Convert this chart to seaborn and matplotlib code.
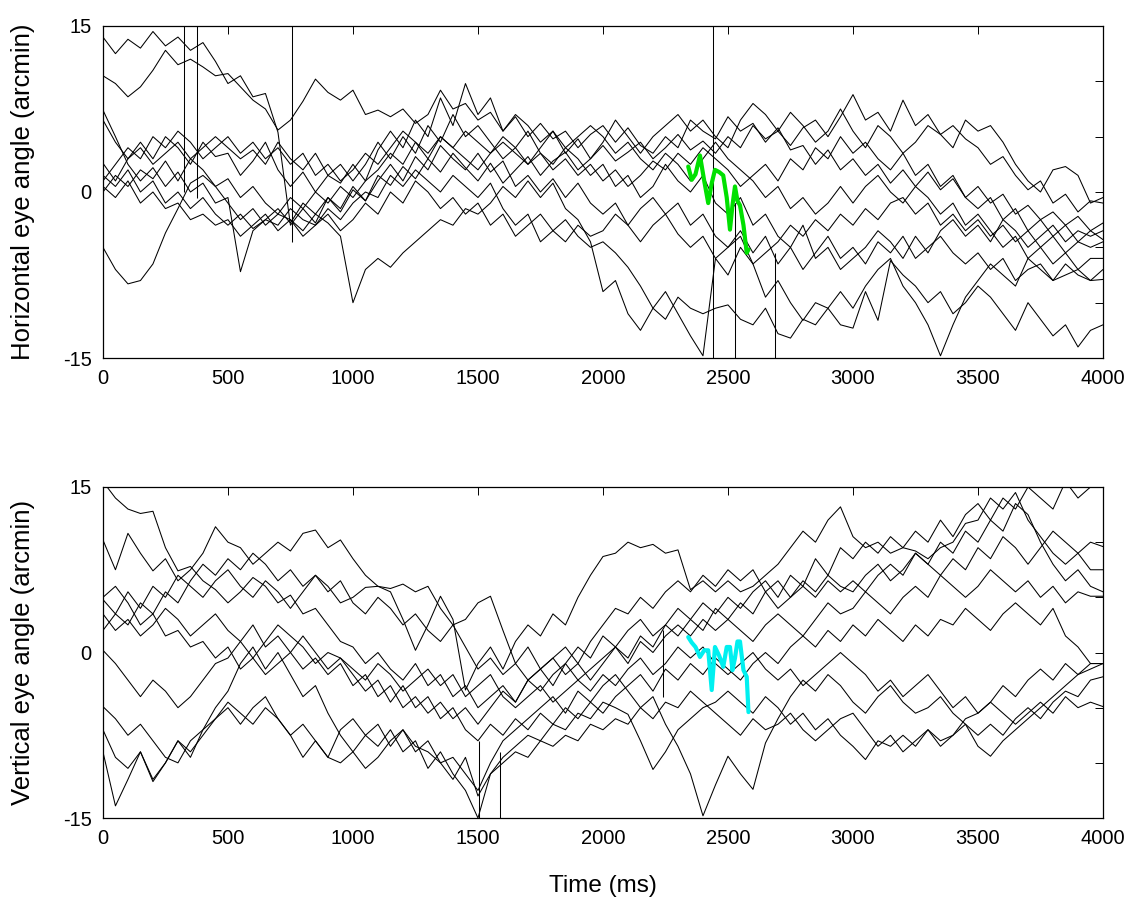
import numpy as np
import pandas as pd
import seaborn as sns
from matplotlib import pyplot as plt

# sample times (ms), one value every 50 ms
t = np.arange(0, 4001, 50)

# horizontal eye angle traces (arcmin)
h1 = [14.0, 12.5, 13.8, 13.0, 14.5, 13.2, 14.0, 12.8, 13.5, 11.8,
      9.8, 10.5, 8.6, 8.9, 5.4, -3.0, -1.5, -2.8, -0.5, -1.8,
      0.2, -0.8, 1.5, 0.6, 2.3, 1.2, 3.0, 1.8, 3.5, 2.2,
      1.0, 2.6, 0.8, 2.0, 3.2, 1.5, 2.8, 3.6, 2.0, 3.0,
      4.2, 2.8, 3.6, 4.5, 3.0, 4.0, 5.2, 3.8, 4.6, 3.5,
      5.0, 4.0, 6.0, 4.8, 5.5, 4.2, 5.8, 6.5, 5.0, 6.8,
      8.8, 6.5, 7.2, 5.5, 8.3, 6.0, 7.0, 5.2, 6.0, 4.8,
      4.0, 2.5, 3.2, 1.5, 0.2, 1.0, -1.0, -0.2, -1.8, -0.8,
      -1.0]
h2 = [10.5, 9.8, 8.6, 9.5, 11.0, 12.8, 11.5, 12.0, 11.3, 10.5,
      10.7, 9.5, 8.3, 7.5, 5.6, 6.5, 8.2, 10.2, 9.0, 8.3,
      9.2, 7.0, 7.4, 6.8, 7.5, 6.2, 7.0, 9.2, 7.5, 8.0,
      6.5, 7.2, 5.5, 6.8, 5.0, 6.2, 4.8, 5.5, 4.0, 5.2,
      6.0, 4.5, 5.8, 4.2, 3.5, 5.0, 4.0, 6.5, 5.5, 4.8,
      6.8, 5.5, 6.2, 4.5, 5.8, 3.8, 4.2, 2.5, 3.8, 2.0,
      3.0, 1.5, 2.5, 0.8, 2.0, 0.5, 1.8, 0.2, 1.2, -0.5,
      0.5, -1.0, -0.2, -2.0, -1.2, -2.5, -1.8, -3.0, -2.2, -3.5,
      -2.8]
h3 = [7.4, 5.0, 2.5, 1.0, 2.2, 0.5, 1.8, 0.0, 0.8, -1.0,
      -0.5, -7.2, -3.5, -2.5, -1.5, -2.8, -1.0, -2.0, -0.5, -1.5,
      0.5, -0.8, 1.0, 2.5, 1.0, 3.2, 2.0, 4.2, 3.0, 2.0,
      3.5, 1.8, 2.8, 0.5, 1.5, 0.0, 1.2, -0.5, 0.8, -1.0,
      -2.0, -1.0, -3.0, -4.5, -3.0, -2.0, -3.8, -5.0, -4.0, -6.0,
      -5.0, -4.0, -6.5, -5.5, -4.5, -3.0, -4.0, -2.5, -3.5, -2.0,
      -3.0, -1.5, -2.5, -1.0, -0.5, -2.0, -1.0, -3.0, -2.0, -3.5,
      -2.5, -4.0, -3.0, -4.5, -3.5, -5.0, -4.0, -5.5, -4.5, -5.0,
      -4.5]
h4 = [-5.0, -7.0, -8.3, -8.0, -6.5, -3.7, -1.5, 0.8, 1.5, 0.5,
      -1.0, -2.5, -1.5, -3.0, -2.0, -2.5, -3.5, -2.0, -2.8, -4.0,
      -10.0, -7.0, -6.0, -6.8, -5.5, -4.5, -3.5, -2.5, -3.0, -1.5,
      -2.0, -1.0, 0.5, -0.5, 1.0, -0.5, 0.8, -1.5, -2.5, -4.5,
      -9.0, -8.0, -11.0, -12.5, -10.5, -11.5, -9.5, -10.5, -11.0, -10.5,
      -10.2, -11.5, -12.0, -10.5, -12.8, -13.2, -11.5, -12.0, -10.5, -12.0,
      -12.3, -9.0, -11.6, -6.2, -7.5, -8.5, -10.0, -9.0, -11.0, -10.0,
      -8.5, -9.5, -11.0, -12.5, -10.0, -11.5, -13.0, -12.0, -14.0, -12.5,
      -12.0]
h5 = [2.6, 1.0, 3.0, 4.5, 3.0, 5.0, 4.0, 2.5, 4.5, 3.2,
      3.5, 1.5, 2.8, 4.5, 2.0, 0.5, 1.8, 0.0, 1.5, 0.8,
      2.5, 1.0, 3.8, 5.5, 4.0, 6.5, 5.0, 8.5, 6.0, 9.8,
      7.0, 8.5, 5.5, 7.0, 6.0, 4.5, 5.5, 3.5, 4.8, 3.0,
      4.5, 6.5, 5.0, 3.5, 5.0, 6.0, 7.0, 5.5, 6.5, 5.0,
      4.0, 6.5, 8.0, 7.0, 5.5, 7.2, 6.0, 4.5, 5.5, 7.5,
      5.5, 4.0, 6.0, 5.0, 3.5, 4.5, 6.0, 5.2, 4.0, 6.5,
      5.5, 6.0, 4.5, 2.5, 1.0, 0.0, 2.0, 2.3, 1.5, -1.0,
      -0.5]
h6 = [1.5, 0.5, 2.0, 0.0, 1.0, -1.0, 0.0, -1.5, -0.5, -2.0,
      -3.0, -2.0, -3.3, -2.5, -3.0, -1.5, -2.5, -3.0, -1.5, -2.5,
      -1.0, 0.0, -0.5, 1.5, 0.5, 2.0, 1.0, 0.0, 1.5, 0.5,
      -0.5, 0.8, -1.5, -3.0, -2.0, -4.5, -3.5, -2.5, -4.0, -5.0,
      -4.5, -5.5, -6.8, -8.5, -10.5, -9.0, -11.0, -13.0, -14.8, -6.0,
      -7.5, -5.0, -6.5, -9.5, -8.0, -10.0, -11.6, -10.0, -10.5, -9.0,
      -10.5, -8.5, -7.0, -6.0, -8.5, -10.0, -12.0, -14.8, -12.0, -9.5,
      -8.0, -6.5, -7.5, -8.5, -6.0, -7.0, -8.0, -6.5, -7.5, -8.0,
      -7.0]
h7 = [0.0, 1.5, 0.5, 2.0, 1.2, 2.8, 1.0, 3.0, 2.0, 0.5,
      1.2, -0.5, 0.5, -1.0, -2.0, -0.5, -1.5, 0.0, -1.0, 0.5,
      -0.5, 1.0, 2.0, 3.5, 2.5, 4.5, 3.0, 5.0, 4.0, 5.5,
      4.5, 3.5, 5.0, 4.0, 2.5, 3.5, 2.0, 3.0, 1.5, 2.5,
      1.0, 2.0, 0.5, 1.5, 2.8, 2.0, 3.5, 2.5, 4.0, 3.0,
      2.0, 0.5, 1.5, 2.5, 1.0, 3.0, 2.0, 4.0, 3.0, 5.0,
      3.5, 4.5, 3.0, 2.0, 3.5, 1.5, 2.5, 0.5, 1.5, -0.5,
      -1.5, -0.5, -2.5, -1.5, -3.5, -2.5, -4.0, -3.0, -4.5, -3.5,
      -4.3]
h8 = [0.5, -0.5, 1.0, -1.0, 0.0, -1.5, -1.0, -2.5, -2.0, -3.0,
      -2.5, -4.0, -3.0, -2.0, -3.5, -2.5, -4.0, -3.0, -2.0, -3.5,
      -2.5, -1.0, -2.0, 0.0, -1.0, 1.0, 0.0, -1.5, -0.5, -2.0,
      -1.0, -3.0, -2.0, -4.0, -3.0, -2.0, -3.5, -4.5, -3.0, -4.0,
      -3.5, -2.0, -3.0, -1.5, -0.5, -2.0, -1.0, -3.0, -2.0, -4.0,
      -5.0, -3.5, -5.5, -4.0, -6.5, -5.0, -7.0, -5.5, -4.0, -6.0,
      -5.0, -6.5, -4.5, -5.5, -4.0, -6.0, -5.0, -4.0, -5.5, -6.5,
      -5.5, -7.0, -6.0, -8.0, -7.0, -6.5, -8.0, -7.5, -7.0, -8.0,
      -7.9]
h9 = [6.5, 4.5, 3.0, 4.0, 2.5, 3.5, 4.5, 3.0, 4.0, 5.0,
      4.0, 3.0, 3.8, 2.5, 4.5, 3.0, 2.0, 3.5, 1.5, 2.5,
      1.0, 2.5, 4.5, 3.0, 5.0, 3.5, 6.0, 4.5, 7.0, 5.0,
      6.0, 4.5, 3.0, 4.0, 5.5, 3.5, 2.5, 4.0, 3.0, 1.5,
      2.5, 0.5, 1.5, -0.5, 0.5, 2.5, 1.0, 0.0, 1.5, -1.0,
      -2.0, -0.5, -3.0, -2.0, -4.0, -5.0, -3.0, -6.0, -5.0, -7.0,
      -6.0, -5.0, -3.5, -4.5, -6.0, -4.0, -5.5, -3.5, -2.5, -4.0,
      -3.0, -4.5, -2.5, -3.5, -5.0, -4.0, -3.0, -4.5, -3.5, -4.0,
      -3.5]
h10 = [1.0, 2.5, 4.0, 3.0, 5.0, 4.0, 5.5, 4.5, 3.0, 4.0,
       5.0, 3.5, 4.5, 3.0, 4.0, 2.5, 3.5, 1.5, 2.5, 1.0,
       2.0, 3.5, 2.5, 4.0, 5.5, 4.5, 3.5, 5.0, 4.0, 3.0,
       2.0, 3.5, 4.5, 3.5, 2.5, 4.0, 5.5, 4.0, 5.0, 6.0,
       5.0, 3.5, 4.5, 3.0, 2.0, 3.5, 2.5, 1.0, 3.0, 4.5,
       3.0, 2.0, 1.0, -0.5, 0.5, -1.5, -0.5, -2.0, -1.0, 0.5,
       -1.0, 0.5, 1.5, 0.0, -1.0, 0.5, -0.5, -2.0, -1.0, -3.0,
       -2.0, -3.5, -5.0, -4.0, -6.0, -5.0, -6.5, -5.5, -7.0, -6.0,
       -6.0]

# vertical eye angle traces (arcmin)
v1 = [15.5, 14.0, 13.0, 12.6, 12.8, 9.5, 7.4, 7.8, 6.5, 5.7,
      4.5, 5.5, 6.8, 6.0, 4.5, 5.2, 3.5, 4.0, 2.5, 1.0,
      0.5, -1.0, 0.0, -1.5, -2.5, -1.0, -3.0, -2.0, -4.0, -3.0,
      -5.0, -4.0, -3.0, -4.5, -2.5, -1.5, -3.0, -1.0, 0.5, -0.5,
      1.5, 0.5, 2.0, 3.0, 1.5, 2.5, 4.0, 3.0, 4.5, 3.5,
      5.0, 4.0, 5.5, 6.5, 5.0, 7.0, 6.0, 8.5, 7.0, 9.5,
      8.5, 10.0, 9.0, 10.5, 9.5, 11.0, 10.0, 12.0, 10.5, 12.5,
      13.5, 12.0, 14.0, 13.0, 15.0, 14.0, 13.0, 15.5, 14.0, 15.0,
      15.0]
v2 = [10.2, 7.5, 10.8, 9.0, 7.4, 8.5, 6.5, 7.5, 9.0, 11.4,
      10.0, 9.5, 8.0, 9.0, 10.0, 9.2, 10.8, 11.1, 9.5, 10.2,
      8.5, 7.0, 6.0, 5.8, 6.2, 5.5, 6.0, 4.0, 2.5, 3.0,
      4.5, 5.1, 2.0, -1.0, 0.5, -1.5, -0.5, -2.0, -1.0, -2.5,
      -1.0, 0.5, -0.5, 1.5, 0.5, 2.5, 1.5, 3.0, 2.0, 4.0,
      3.0, 4.5, 3.5, 5.5, 4.0, 5.0, 6.5, 5.5, 7.0, 6.0,
      5.5, 7.0, 8.0, 6.5, 7.5, 9.0, 8.0, 7.0, 8.5, 7.5,
      9.5, 8.5, 10.5, 9.5, 8.0, 9.5, 11.0, 10.0, 9.0, 10.0,
      9.6]
v3 = [4.8, 3.5, 5.5, 4.0, 6.0, 5.0, 7.0, 6.0, 5.0, 6.5,
      7.5, 6.0, 5.0, 6.5, 5.5, 4.0, 5.5, 7.0, 6.0, 4.5,
      5.0, 5.9, 6.0, 5.5, 3.0, 0.2, 2.5, 5.1, 3.0, -3.4,
      -1.0, 0.5, -1.5, 1.0, 2.5, 1.5, 3.5, 2.5, 5.0, 7.0,
      8.7, 9.0, 10.0, 9.5, 9.8, 9.0, 9.3, 5.7, 6.5, 5.5,
      6.5, 5.5, 6.0, 7.0, 8.0, 9.5, 11.0, 10.0, 12.0, 13.2,
      10.5, 9.5, 10.0, 9.0, 9.5, 9.2, 8.5, 9.5, 10.0, 11.7,
      12.0, 14.0, 13.0, 14.5, 12.0, 10.5, 9.0, 8.0, 9.0, 7.5,
      7.5]
v4 = [3.5, 2.0, 3.0, 1.5, 2.5, 4.0, 3.0, 1.5, 2.5, 3.5,
      2.0, 1.0, 2.5, 0.5, 1.5, 0.0, -1.5, -0.5, -2.0, -1.0,
      -3.0, -2.0, -4.0, -3.0, -5.0, -4.0, -5.5, -4.5, -6.0, -5.0,
      -6.5, -5.0, -3.5, -4.5, -2.5, -3.5, -2.0, -1.0, -2.5, -1.5,
      -0.5, 0.5, -1.0, 1.0, 0.0, 1.5, 2.5, 1.5, 3.0, 2.0,
      3.0, 2.0, 1.0, 2.5, 3.5, 2.5, 1.5, 3.0, 4.5, 3.5,
      4.0, 5.5, 4.5, 3.5, 5.0, 6.0, 5.0, 7.0, 6.0, 5.0,
      6.0, 7.5, 6.5, 5.5, 6.5, 5.0, 6.0, 4.5, 5.5, 5.1,
      5.1]
v5 = [-9.0, -13.9, -11.5, -9.0, -11.5, -10.0, -8.0, -9.5, -7.0, -5.0,
      -3.5, -1.0, 0.5, -1.5, 0.0, -2.0, -4.0, -3.0, -5.5, -7.5,
      -9.0, -7.5, -8.5, -7.0, -9.0, -8.0, -10.5, -9.0, -11.0, -12.5,
      -15.0, -11.0, -9.5, -8.5, -7.5, -8.0, -6.5, -7.0, -5.5, -6.0,
      -4.5, -5.0, -5.6, -8.0, -10.6, -9.0, -7.0, -6.0, -5.0, -4.5,
      -3.5, -4.5, -5.5, -4.0, -5.0, -6.5, -5.5, -7.0, -6.0, -7.5,
      -8.5, -9.7, -8.0, -8.5, -7.5, -8.5, -7.0, -8.0, -7.5, -6.5,
      -7.5, -6.5, -7.5, -6.0, -5.0, -6.0, -4.5, -3.5, -4.0, -2.5,
      -2.2]
v6 = [-4.9, -6.0, -7.5, -6.5, -8.0, -9.5, -10.0, -8.0, -7.0, -6.0,
      -4.5, -5.5, -6.5, -5.0, -6.0, -7.5, -6.5, -8.0, -9.5, -10.0,
      -9.0, -10.5, -9.5, -8.0, -7.0, -8.5, -9.0, -10.0, -9.5, -11.0,
      -12.5, -10.0, -8.0, -7.0, -6.0, -5.0, -4.0, -5.5, -3.5, -4.5,
      -3.0, -2.0, -3.5, -5.0, -4.0, -6.5, -8.5, -11.0, -14.8, -12.0,
      -9.4, -11.0, -12.4, -8.2, -6.0, -4.0, -2.5, -3.5, -2.0, -3.0,
      -4.5, -5.5, -4.0, -3.0, -4.5, -5.5, -5.0, -4.0, -5.5, -6.5,
      -8.5, -9.4, -8.0, -7.0, -6.0, -5.0, -4.0, -3.0, -2.0, -1.0,
      -1.0]
v7 = [0.2, -1.0, -2.5, -4.0, -2.5, -3.5, -5.0, -4.0, -2.5, -1.0,
      -0.5, 1.0, -0.5, -2.0, -1.0, 0.0, 1.5, 0.0, -1.5, -0.5,
      -2.0, -3.5, -2.5, -4.5, -3.0, -5.0, -4.0, -6.0, -5.0, -7.0,
      -8.0, -6.5, -7.5, -6.0, -7.0, -5.5, -6.5, -5.0, -6.0, -4.5,
      -5.5, -4.0, -3.0, -2.0, -3.5, -1.5, -2.5, -1.0, -2.0, -0.5,
      -1.5, -2.5, -1.0, 0.0, -1.0, 0.5, 1.5, 0.5, 2.0, 1.0,
      2.5, 1.5, 3.0, 2.0, 1.0, 2.5, 1.5, 3.0, 2.5, 4.0,
      3.0, 2.0, 3.5, 4.5, 3.5, 2.5, 4.0, 1.5, 0.5, -1.0,
      -1.0]
v8 = [2.0, 3.5, 2.5, 4.5, 3.5, 5.5, 4.5, 6.5, 8.0, 7.0,
      8.5, 7.5, 9.0, 8.0, 6.5, 7.5, 6.0, 7.0, 5.5, 6.5,
      4.5, 3.5, 5.0, 4.0, 2.5, 3.5, 2.0, 1.0, 2.5, 0.5,
      -1.5, -0.5, -2.0, -1.0, -2.5, -1.5, -0.5, 0.5, -1.0, 1.0,
      2.5, 4.0, 3.5, 5.0, 4.0, 5.5, 6.5, 5.5, 7.0, 6.0,
      7.5, 6.5, 7.5, 5.5, 6.5, 5.0, 6.0, 5.0, 6.5, 5.5,
      6.5, 5.5, 7.0, 8.0, 7.0, 9.0, 8.0, 10.0, 9.0, 11.0,
      10.0, 12.0, 11.0, 13.5, 12.5, 10.0, 8.0, 6.5, 7.5, 6.0,
      5.5]
v9 = [-7.0, -9.5, -10.5, -9.0, -11.7, -10.0, -8.0, -9.0, -7.5, -6.0,
      -5.0, -6.5, -5.0, -4.0, -6.0, -7.5, -9.5, -8.0, -9.5, -7.0,
      -6.0, -7.5, -6.5, -8.5, -7.0, -9.0, -8.0, -10.0, -11.5, -9.5,
      -13.0, -11.0, -10.0, -9.0, -9.5, -8.0, -8.5, -7.5, -8.0, -6.5,
      -7.0, -6.0, -6.5, -5.0, -6.0, -4.5, -5.0, -3.5, -4.5, -5.5,
      -6.5, -7.5, -6.0, -7.0, -6.5, -5.5, -7.0, -8.0, -7.0, -6.0,
      -5.5, -7.0, -8.5, -7.5, -9.0, -8.0, -7.0, -8.5, -7.5, -6.0,
      -5.5, -4.5, -5.5, -6.5, -5.5, -4.5, -5.5, -4.0, -5.0, -4.5,
      -4.9]
v10 = [5.0, 6.0, 4.5, 2.5, 3.5, 1.5, 2.0, 0.5, 1.0, -0.5,
       0.5, -1.5, -0.5, 1.0, 2.5, 1.5, 0.5, -1.0, 0.0, -0.5,
       -1.5, -2.5, -1.0, -2.0, -3.5, -2.5, -1.5, -3.0, -2.0, -4.0,
       -3.0, -2.0, -4.0, -5.0, -4.0, -3.0, -4.5, -3.5, -2.5, -3.5,
       -2.0, -3.0, -1.5, -0.5, -2.0, -1.0, 0.5, -0.5, 0.5, -1.0,
       -2.0, -1.0, 0.0, -1.5, -2.5, -1.5, -3.0, -2.0, -1.0, 0.0,
       -1.0, -2.0, -3.5, -2.5, -4.0, -3.0, -2.0, -3.5, -5.0, -4.0,
       -5.5, -4.5, -3.0, -4.0, -2.5, -1.5, -2.5, -1.0, -2.0, -1.5,
       -1.0]

# single-sample transients (blinks / artefacts)
h_spike_t = [325, 375, 757, 2440, 2530, 2690]
h_spike_lo = [0.0, -0.5, -4.5, -15.5, -15.5, -15.5]
h_spike_hi = [15.5, 15.5, 15.5, 15.5, -1.0, -5.5]
v_spike_t = [1505, 1590, 2240]
v_spike_lo = [-15.5, -15.5, -4.0]
v_spike_hi = [-8.0, -9.0, 2.0]

# highlighted segment
seg_t = [2341, 2355, 2370, 2388, 2405, 2421, 2435, 2448, 2465, 2481,
         2495, 2508, 2518, 2528, 2538, 2548, 2562, 2575, 2582]
seg_h = [2.3, 1.1, 1.6, 3.3, 1.0, -1.0, 0.8, 2.0, 1.8, 1.5,
         -0.5, -3.4, -1.2, 0.5, -0.8, -1.2, -3.0, -5.5, -5.2]
seg_v = [1.4, 0.9, 0.5, -0.4, 0.2, 0.2, -3.4, 0.5, -0.3, -1.3,
         0.5, 0.5, -1.6, -0.5, 1.0, 1.0, -1.6, -2.2, -5.4]

horiz = [h1, h2, h3, h4, h5, h6, h7, h8, h9, h10]
vert = [v1, v2, v3, v4, v5, v6, v7, v8, v9, v10]

df_h = pd.DataFrame({'t': np.tile(t, len(horiz)), 'angle': np.concatenate(horiz),
                     'trial': np.repeat(np.arange(len(horiz)), len(t))})
df_v = pd.DataFrame({'t': np.tile(t, len(vert)), 'angle': np.concatenate(vert),
                     'trial': np.repeat(np.arange(len(vert)), len(t))})

sns.set_style('white')
plt.rcParams['font.family'] = ['Liberation Sans', 'DejaVu Sans']
plt.rcParams['text.color'] = 'k'
plt.rcParams['axes.labelcolor'] = 'k'
plt.rcParams['xtick.color'] = 'k'
plt.rcParams['ytick.color'] = 'k'

fig = plt.figure(figsize=(11.35, 9.18), dpi=100)
ax1 = fig.add_axes([0.0907, 0.6100, 0.8811, 0.3617])
ax2 = fig.add_axes([0.0907, 0.1089, 0.8811, 0.3606])

sns.lineplot(data=df_h, x='t', y='angle', units='trial', estimator=None,
             color='k', lw=0.75, ax=ax1)
ax1.vlines(h_spike_t, h_spike_lo, h_spike_hi, color='k', lw=0.75)
sns.lineplot(x=seg_t, y=seg_h, color='#00e000', lw=3, ax=ax1)

sns.lineplot(data=df_v, x='t', y='angle', units='trial', estimator=None,
             color='k', lw=0.75, ax=ax2)
ax2.vlines(v_spike_t, v_spike_lo, v_spike_hi, color='k', lw=0.75)
sns.lineplot(x=seg_t, y=seg_v, color='#00f0f0', lw=3, ax=ax2)

for ax, lab in [(ax1, 'Horizontal eye angle (arcmin)'), (ax2, 'Vertical eye angle (arcmin)')]:
    ax.set_xlim(0, 4000)
    ax.set_ylim(-15, 15)
    ax.set_xticks(np.arange(0, 4001, 500))
    ax.set_yticks([-15, -10, -5, 0, 5, 10, 15])
    ax.set_yticklabels(['-15', '', '', '0', '', '', '15'])
    ax.tick_params(direction='in', top=True, right=True, length=6, width=0.7,
                   labelsize=14.5, pad=8)
    for s in ax.spines.values():
        s.set_linewidth(0.9)
        s.set_color('k')
    ax.set_ylabel(lab, fontsize=18.5)
    ax.yaxis.set_label_coords(-0.068, 0.5)
    ax.set_xlabel('')

ax2.set_xlabel('Time (ms)', fontsize=17.5, labelpad=19)

fig.savefig('out.png', dpi=100)
